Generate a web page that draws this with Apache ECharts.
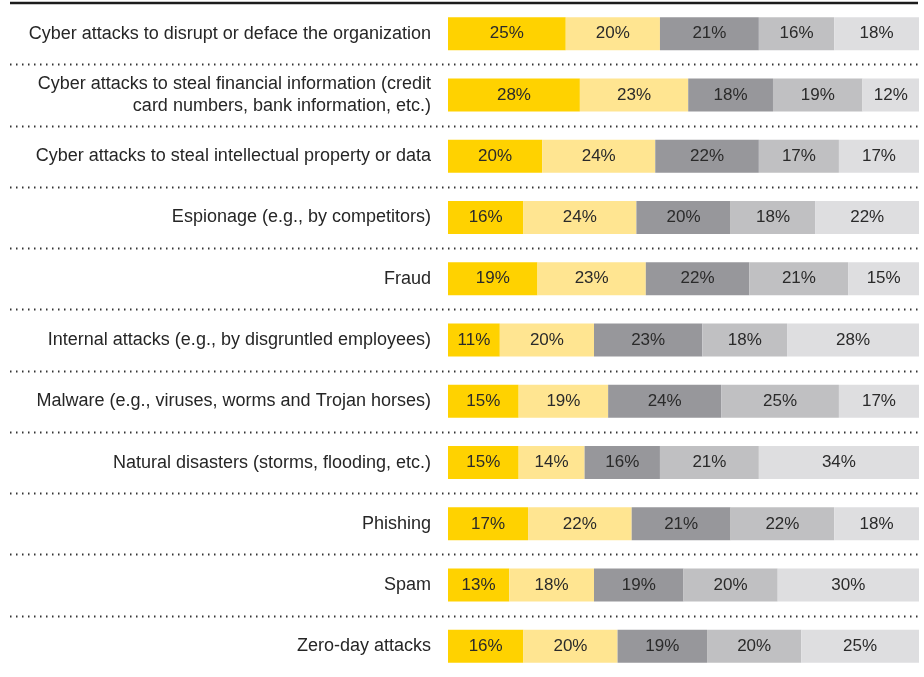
<!DOCTYPE html>
<html>
<head>
<meta charset="utf-8">
<script src="https://cdn.jsdelivr.net/npm/echarts@6/dist/echarts.min.js"></script>
<style>
  html, body { margin: 0; padding: 0; background: #fff; }
  #main { width: 924px; height: 677px; }
</style>
</head>
<body>
<div id="main"></div>
<script>
// categories, top to bottom
var categories = [
  'Cyber attacks to disrupt or deface the organization',
  'Cyber attacks to steal financial information (credit\ncard numbers, bank information, etc.)',
  'Cyber attacks to steal intellectual property or data',
  'Espionage (e.g., by competitors)',
  'Fraud',
  'Internal attacks (e.g., by disgruntled employees)',
  'Malware (e.g., viruses, worms and Trojan horses)',
  'Natural disasters (storms, flooding, etc.)',
  'Phishing',
  'Spam',
  'Zero-day attacks'
];

var level1 = [25, 28, 20, 16, 19, 11, 15, 15, 17, 13, 16];
var level2 = [20, 23, 24, 24, 23, 20, 19, 14, 22, 18, 20];
var level3 = [21, 18, 22, 20, 22, 23, 24, 16, 21, 19, 19];
var level4 = [16, 19, 17, 18, 21, 18, 25, 21, 22, 20, 20];
var level5 = [18, 12, 17, 22, 15, 28, 17, 34, 18, 30, 25];

var colors = ['#FFD200', '#FFE591', '#97979B', '#C0C0C2', '#DEDEE0'];

var myChart = echarts.init(document.getElementById('main'));

function mkSeries(name, data, i) {
  return {
    name: name,
    type: 'bar',
    stack: 'total',
    barWidth: 33,
    data: data,
    itemStyle: { color: colors[i] },
    label: {
      show: true,
      position: 'inside',
      formatter: '{c}%',
      color: '#2a2a2a',
      fontSize: 17,
      fontFamily: 'Liberation Sans',
      padding: [3, 0, 0, 0]
    }
  };
}

myChart.setOption({
  animation: false,
  grid: { left: 448, right: 5, top: 3, height: 676.5 },
  xAxis: {
    type: 'value',
    min: 0,
    max: 100,
    show: false
  },
  yAxis: {
    type: 'category',
    inverse: true,
    data: categories,
    axisLine: { show: false },
    axisTick: { show: false },
    splitLine: { show: false },
    axisLabel: {
      margin: 17,
      color: '#262626',
      fontSize: 18,
      lineHeight: 22,
      fontFamily: 'Liberation Sans',
      padding: [4, 0, 0, 0]
    }
  },
  series: [
    mkSeries('1', level1, 0),
    mkSeries('2', level2, 1),
    mkSeries('3', level3, 2),
    mkSeries('4', level4, 3),
    mkSeries('5', level5, 4)
  ]
});

// separator lines between rows, from the category band boundaries
var lines = [];
var n = categories.length;
for (var k = 0; k < n; k++) {
  var y0 = myChart.convertToPixel({ yAxisIndex: 0 }, k);
  var y1 = k + 1 < n ? myChart.convertToPixel({ yAxisIndex: 0 }, k + 1) : null;
  if (k === 0) {
    var yt = y0 - (myChart.convertToPixel({ yAxisIndex: 0 }, 1) - y0) / 2;
    lines.push({
      type: 'line',
      shape: { x1: 10, y1: yt, x2: 918, y2: yt },
      style: { stroke: '#1c1c1c', lineWidth: 2.5 }
    });
  }
  if (y1 !== null) {
    var ym = Math.round((y0 + y1) / 2) + 0.5;
    lines.push({
      type: 'line',
      shape: { x1: 10, y1: ym, x2: 918, y2: ym },
      style: { stroke: '#333', lineWidth: 2, lineDash: [1.5, 4.5] }
    });
  }
}
myChart.setOption({ graphic: lines });
</script>
</body>
</html>
